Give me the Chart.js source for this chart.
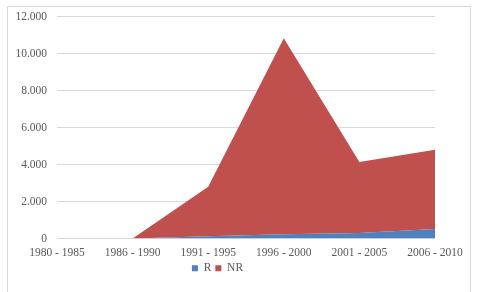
<!DOCTYPE html>
<html>
<head>
<meta charset="utf-8">
<script src="https://cdn.jsdelivr.net/npm/chart.js@4"></script>
<style>
  html, body { margin: 0; padding: 0; background: #fff; }
  #wrap { position: relative; width: 482px; height: 292px; }
  #frame { position: absolute; left: 7px; top: 6px; width: 464px; height: 300px; border: 1px solid #d9d9d9; box-sizing: border-box; }
  canvas { position: absolute; left: 0; top: 0; }
</style>
</head>
<body>
<div id="wrap">
  <div id="frame"></div>
  <canvas id="chart" width="482" height="292"></canvas>
</div>
<script>
// periods on the x axis
const periods = ['1980 - 1985', '1986 - 1990', '1991 - 1995', '1996 - 2000', '2001 - 2005', '2006 - 2010'];
// values
const rValues  = [0, 0, 120, 230, 300, 520];
const nrValues = [0, 0, 2680, 10620, 3840, 4280];

const textColor = '#595959';
const serif = 'Liberation Serif';

new Chart(document.getElementById('chart').getContext('2d'), {
  type: 'line',
  data: {
    labels: periods,
    datasets: [
      { label: 'R', data: rValues, backgroundColor: '#4F81BD', borderColor: '#4F81BD', borderWidth: 0, fill: 'origin', pointRadius: 0, tension: 0 },
      { label: 'NR', data: nrValues, backgroundColor: '#C0504D', borderColor: '#C0504D', borderWidth: 0, fill: '-1', pointRadius: 0, tension: 0 }
    ]
  },
  options: {
    responsive: false,
    animation: false,
    layout: { padding: { left: 0, right: 47, top: 15, bottom: 8 } },
    plugins: {
      legend: {
        position: 'bottom',
        labels: { boxWidth: 6, boxHeight: 6, padding: 4, color: textColor, font: { family: serif, size: 11.5 } }
      },
      tooltip: { enabled: false }
    },
    scales: {
      x: {
        offset: false,
        grid: { display: false, drawTicks: false },
        border: { display: false },
        ticks: { maxRotation: 0, autoSkip: false, padding: 8, color: textColor, font: { family: serif, size: 11.5 } },
        afterFit: s => { s.height = 20; }
      },
      y: {
        stacked: true,
        min: 0, max: 12000,
        grid: { color: '#d9d9d9', drawTicks: false },
        border: { display: false },
        ticks: {
          stepSize: 2000, padding: 10, color: textColor, font: { family: serif, size: 11.5 },
          callback: v => v.toLocaleString('de-DE')
        },
        afterFit: s => { s.width = 57; }
      }
    }
  }
});
</script>
</body>
</html>
